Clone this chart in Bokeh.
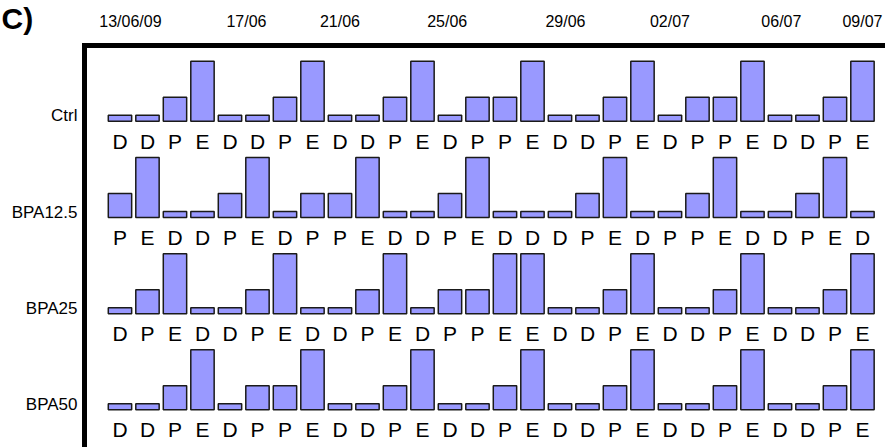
from bokeh.plotting import figure
from bokeh.models import Range1d, ColumnDataSource
from bokeh.embed import file_html
from bokeh.resources import INLINE
from bokeh.core.properties import value

# ---------------- data ----------------
groups = ["Ctrl", "BPA12.5", "BPA25", "BPA50"]
stage_value = {"D": 1, "P": 4, "E": 10}

ctrl_bars = list("DDPEDDPEDDPEDPPEDDPEDPPEDDPE")
ctrl_letters = list("DDPEDDPEDDPEDPPEDDPEDPPEDDPE")
bpa125_bars = list("PEDDPEDPPEDDPEDDDPEDDPEDDPED")
bpa125_letters = list("PEDDPEDPPEDDPEDDDPEDPPEDDPED")
bpa25_bars = list("DPEDDPEDDPEDPPEEDDPEDDPEDDPE")
bpa25_letters = list("DPEDDPEDDPEDPPEEDDPEDDPEDDPE")
bpa50_bars = list("DDPEDPPEDDPEDDPEDDPEDDPEDDPE")
bpa50_letters = list("DDPEDPPEDDPEDDPEDDPEDDPEDDPE")

date_labels = ["13/06/09", "17/06", "21/06", "25/06", "29/06", "02/07", "06/07", "09/07"]
date_ticks = [0.38, 4.6, 8.0, 11.9, 16.2, 20.0, 24.05, 27.0]

panel_label = "C)"

rows_bars = [ctrl_bars, bpa125_bars, bpa25_bars, bpa50_bars]
rows_letters = [ctrl_letters, bpa125_letters, bpa25_letters, bpa50_letters]

# ---------------- layout constants ----------------
W, H = 885, 447
LEFT, TOP = 84, 45          # pixel position of the framing lines
PX_PER_UNIT = 6.0
PX_PER_DAY = 27.5
FIRST_BASE = 12.63
ROW_GAP = 16.03
X_FRAME = -1.29                         # data x of the left framing line
X_MIN = X_FRAME - LEFT / PX_PER_DAY     # data x at canvas left
X_MAX = X_FRAME + (W - LEFT) / PX_PER_DAY
Y_MAX = TOP / PX_PER_UNIT               # data y at canvas top (frame line at y=0)
Y_MIN = -(H - TOP) / PX_PER_UNIT

bx, bb, bt = [], [], []
lx, ly, lt = [], [], []
row_pos = []
for r, (bars, letters) in enumerate(zip(rows_bars, rows_letters)):
    base = -(FIRST_BASE + r * ROW_GAP)
    row_pos.append(base + 0.9)
    for i, s in enumerate(bars):
        bx.append(i)
        bb.append(base)
        bt.append(base + stage_value[s])
    for i, s in enumerate(letters):
        lx.append(i)
        ly.append(base)
        lt.append(s)

bar_src = ColumnDataSource(dict(x=bx, bottom=bb, top=bt))
let_src = ColumnDataSource(dict(x=lx, y=ly, text=lt))

p = figure(width=W, height=H, x_range=Range1d(X_MIN, X_MAX), y_range=Range1d(Y_MIN, Y_MAX),
           output_backend="svg", toolbar_location=None,
           x_axis_location=None, y_axis_location=None, min_border=0)
p.outline_line_color = None
p.xgrid.visible = False
p.ygrid.visible = False
p.background_fill_color = "white"
p.border_fill_color = "white"

FONT = value("Liberation Sans")

# bars
p.vbar(x="x", bottom="bottom", top="top", width=0.85, source=bar_src,
       fill_color="#9999FF", line_color="#1a1a1a", line_width=1.5)

# stage letters under bars
p.text(x="x", y="y", text="text", source=let_src, text_align="center",
       text_baseline="middle", y_offset=20, text_font=FONT,
       text_font_size="21px", text_color="black")

# framing lines (left and top axis lines)
p.segment(x0=[X_FRAME, X_FRAME], y0=[0, 0], x1=[X_MAX, X_FRAME], y1=[0, Y_MIN],
          line_width=5, line_color="black", line_cap="square")

# date labels (top axis)
p.text(x=date_ticks, y=[0] * len(date_ticks), text=date_labels, text_align="center",
       text_baseline="middle", y_offset=-24, text_font=FONT,
       text_font_size="16px", text_color="black")

# group labels (left axis)
p.text(x=[X_FRAME] * len(groups), y=row_pos, text=groups, text_align="right",
       text_baseline="middle", x_offset=-7, text_font=FONT,
       text_font_size="17px", text_color="black")

# panel label
p.text(x=[X_MIN], y=[Y_MAX], text=[panel_label], text_align="left",
       text_baseline="middle", x_offset=1, y_offset=17.5, text_font=FONT,
       text_font_size="30px", text_font_style="bold", text_color="black")

open("out.html", "w").write(file_html(p, INLINE))
